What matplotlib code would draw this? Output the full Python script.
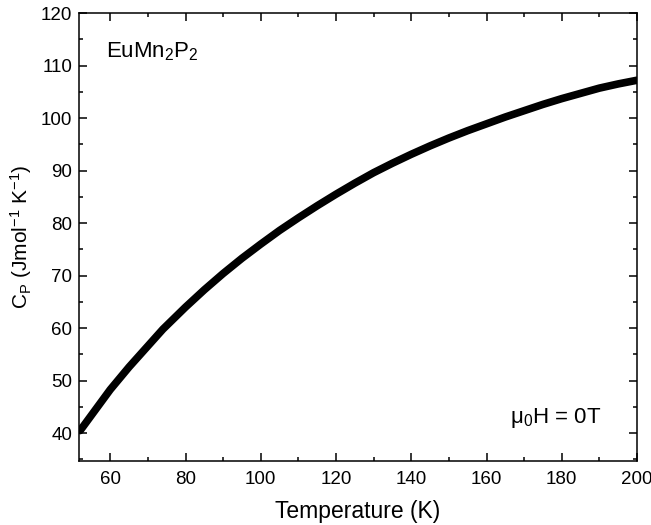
import numpy as np
import matplotlib
matplotlib.use("Agg")
import matplotlib.pyplot as plt
from matplotlib.ticker import MultipleLocator

plt.rcParams["font.family"] = ["Liberation Sans", "DejaVu Sans"]
plt.rcParams["mathtext.fontset"] = "custom"
plt.rcParams["mathtext.rm"] = "Liberation Sans"
plt.rcParams["mathtext.it"] = "Liberation Sans"

# heat capacity of EuMn2P2 at zero field
temperature = [52, 56, 60, 65, 70, 74, 80, 85, 90, 95, 100, 105, 110, 115, 120,
               125, 130, 135, 140, 145, 150, 155, 160, 165, 170, 175, 180,
               185, 190, 195, 200]
cp = [40.5, 44.4, 48.3, 52.6, 56.6, 59.8, 64.0, 67.3, 70.4, 73.3, 76.0, 78.6,
      81.0, 83.3, 85.5, 87.6, 89.6, 91.4, 93.1, 94.7, 96.2, 97.6, 98.9, 100.2,
      101.4, 102.6, 103.7, 104.7, 105.7, 106.5, 107.2]

fig = plt.figure(figsize=(6.51, 5.25), dpi=100)
ax = fig.add_axes([0.1214, 0.1219, 0.8571, 0.8533])

ax.plot(temperature, cp, color="black", lw=5.5, solid_capstyle="round",
        solid_joinstyle="round")

ax.set_xlim(51.7, 200)
ax.set_ylim(34.7, 120)
ax.xaxis.set_major_locator(MultipleLocator(20))
ax.xaxis.set_minor_locator(MultipleLocator(10))
ax.yaxis.set_major_locator(MultipleLocator(10))
ax.yaxis.set_minor_locator(MultipleLocator(5))
ax.tick_params(which="both", direction="in", top=True, right=True,
               width=1.1, labelsize=13.5)
ax.tick_params(which="major", length=6)
ax.tick_params(which="minor", length=3)
ax.tick_params(axis="x", pad=7)
ax.tick_params(axis="y", pad=5)
for s in ax.spines.values():
    s.set_linewidth(1.1)

ax.set_xlabel("Temperature (K)", fontsize=16.5, labelpad=9)
ax.set_ylabel(r"C$_\mathregular{P}$ (Jmol$^\mathregular{-1}$ K$^\mathregular{-1}$)",
              fontsize=15, labelpad=5)

ax.text(0.048, 0.9, r"EuMn$_\mathregular{2}$P$_\mathregular{2}$",
        transform=ax.transAxes, fontsize=16)
ax.text(0.935, 0.085, r"$\mathregular{\mu_0}$H = 0T", transform=ax.transAxes,
        fontsize=16, ha="right")

fig.savefig("out.png", dpi=100)
